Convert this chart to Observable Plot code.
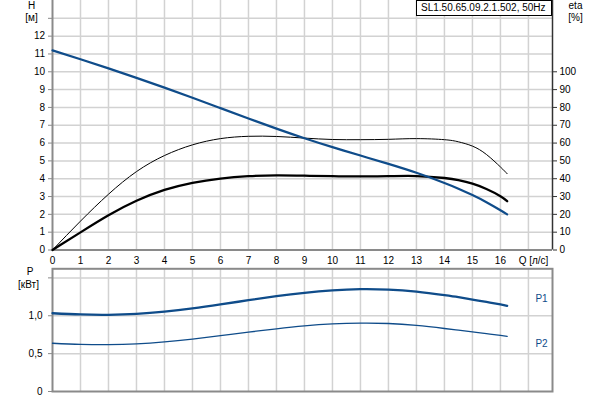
<!DOCTYPE html>
<html><head><meta charset="utf-8">
<script src="https://cdn.jsdelivr.net/npm/d3@7"></script>
<script src="https://cdn.jsdelivr.net/npm/@observablehq/plot@0.6"></script>
<style>
html,body{margin:0;padding:0;background:#fff;}
#chart{position:relative;width:600px;height:400px;overflow:hidden;font-family:"Liberation Sans",Arial,sans-serif;}
#chart svg{position:absolute;left:0;}
#title{position:absolute;left:416px;top:0;width:136px;height:16px;box-sizing:border-box;border:1px solid #000;background:#fff;font-size:10px;line-height:14px;padding-left:4px;white-space:nowrap;color:#000;}
</style></head><body><div id="chart"></div>
<script>
// ---- data ----
const Q        = [0, 1, 2, 3, 4, 5, 6, 7, 8, 9, 10, 11, 12, 13, 14, 14.5, 15, 15.5, 16, 16.24];
const H        = [11.2, 10.7, 10.19, 9.66, 9.11, 8.54, 7.96, 7.38, 6.81, 6.27, 5.77, 5.30, 4.83, 4.33, 3.76, 3.44, 3.08, 2.68, 2.23, 2.0];
const etaPump  = [0, 16.2, 31.3, 44.0, 53.0, 59.0, 62.5, 63.8, 63.7, 62.8, 62.0, 61.9, 62.1, 62.5, 61.9, 60.7, 58.3, 53.6, 46.6, 42.8];
const etaTotal = [0, 9.9, 19.5, 27.6, 33.7, 37.7, 40.1, 41.4, 41.9, 41.7, 41.4, 41.3, 41.4, 41.5, 40.4, 39.2, 37.2, 34.2, 30.2, 27.4];
const P1       = [1.033, 1.017, 1.013, 1.025, 1.055, 1.098, 1.150, 1.205, 1.258, 1.303, 1.336, 1.352, 1.346, 1.318, 1.272, 1.245, 1.213, 1.182, 1.149, 1.131];
const P2       = [0.637, 0.622, 0.618, 0.628, 0.654, 0.692, 0.737, 0.784, 0.828, 0.866, 0.892, 0.903, 0.898, 0.872, 0.832, 0.81, 0.787, 0.763, 0.74, 0.728];
const qTicks   = [0, 1, 2, 3, 4, 5, 6, 7, 8, 9, 10, 11, 12, 13, 14, 15, 16];
const hTicks   = [0, 1, 2, 3, 4, 5, 6, 7, 8, 9, 10, 11, 12, 13];
const etaTicks = [0, 10, 20, 30, 40, 50, 60, 70, 80, 90, 100];
const pTicks   = [0, 0.5, 1, 1.5];
const pLabels  = ["0", "0,5", "1,0", ""];
const title    = "SL1.50.65.09.2.1.502, 50Hz";

// ---- styling ----
const BLUE = "#0f4c8a", GRID = "#d2d2d2", AXIS = "#8a8a8a", DARK = "#333";
const FONT = {fontFamily: "'Liberation Sans', Arial, sans-serif", fontSize: "10px", color: "#000", background: "transparent"};
const xMax = 17.86;
const CURVE = "natural";

const rows = Q.map((q, i) => ({q, H: H[i], e1: etaPump[i], e2: etaTotal[i], p1: P1[i], p2: P2[i]}));
const lbl = (t, anchor, dx, dy, fill = "#000") =>
  Plot.text([t], {text: d => d, frameAnchor: anchor, dx, dy, textAnchor: "middle", lineAnchor: "middle", fill});

const topPlot = Plot.plot({
  width: 600, height: 268, marginTop: 0, marginBottom: 18.5, marginLeft: 52, marginRight: 48,
  style: FONT,
  x: {domain: [0, xMax], label: null},
  y: {domain: [0, 14], label: null},
  marks: [
    Plot.gridX({ticks: d3.range(1, 18), stroke: GRID, strokeOpacity: 1, strokeWidth: 1.5}),
    Plot.gridY({ticks: d3.range(1, 14), stroke: GRID, strokeOpacity: 1, strokeWidth: 1.5}),
    Plot.axisY({ticks: hTicks, anchor: "left", label: null, tickSize: 4, tickPadding: 3.5, stroke: AXIS, fill: "#000", tickFormat: d => d === 13 ? "" : String(d)}),
    Plot.axisY({ticks: etaTicks.map(e => e / 10), anchor: "right", label: null, tickSize: 4, tickPadding: 3, stroke: DARK, fill: "#000", tickFormat: d => String(Math.round(d * 10))}),
    Plot.axisX({ticks: qTicks, anchor: "bottom", label: null, tickSize: 0, tickPadding: 7, fill: "#000"}),
    Plot.ruleX([0], {stroke: AXIS, strokeWidth: 2}),
    Plot.ruleY([0], {stroke: AXIS, strokeWidth: 2}),
    Plot.ruleX([xMax], {stroke: DARK, strokeWidth: 1.5}),
    Plot.line(rows, {x: "q", y: d => d.e1 / 10, stroke: "#000", strokeWidth: 1, curve: CURVE}),
    Plot.line(rows, {x: "q", y: d => d.e2 / 10, stroke: "#000", strokeWidth: 2.3, curve: CURVE}),
    Plot.line(rows, {x: "q", y: "H", stroke: BLUE, strokeWidth: 2.2, curve: CURVE}),
    lbl("H", "top-left", -21, 5),
    lbl("[м]", "top-left", -21, 17),
    lbl("eta", "top-right", 23, 5),
    lbl("[%]", "top-right", 23, 17),
    lbl("Q [л/с]", "bottom-right", -19, 10.5)
  ]
});

const botPlot = Plot.plot({
  width: 600, height: 134, marginTop: 2.3, marginBottom: 9, marginLeft: 52, marginRight: 48,
  style: FONT,
  x: {domain: [0, xMax], axis: null},
  y: {domain: [0, 1.62], label: null},
  marks: [
    Plot.gridX({ticks: d3.range(1, 18), stroke: GRID, strokeOpacity: 1, strokeWidth: 1.5}),
    Plot.gridY({ticks: [0.5, 1, 1.5], stroke: GRID, strokeOpacity: 1, strokeWidth: 1.5}),
    Plot.axisY({ticks: pTicks, anchor: "left", label: null, tickSize: 4, tickPadding: 6, stroke: AXIS, fill: "#000", tickFormat: d => pLabels[pTicks.indexOf(d)]}),
    Plot.frame({stroke: AXIS, strokeWidth: 2}),
    Plot.line(rows, {x: "q", y: "p1", stroke: BLUE, strokeWidth: 2.3, curve: CURVE}),
    Plot.line(rows, {x: "q", y: "p2", stroke: BLUE, strokeWidth: 1.3, curve: CURVE}),
    lbl("P", "top-left", -22.5, 3.2),
    lbl("[кВт]", "top-left", -24, 15.7),
    lbl("P1", "top-right", -11, 29.7, BLUE),
    lbl("P2", "top-right", -11, 75.2, BLUE)
  ]
});

const chart = document.getElementById("chart");
topPlot.style.top = "0px";
botPlot.style.top = "266px";
chart.appendChild(topPlot);
chart.appendChild(botPlot);
const t = document.createElement("div");
t.id = "title";
t.textContent = title;
chart.appendChild(t);
</script></body></html>
